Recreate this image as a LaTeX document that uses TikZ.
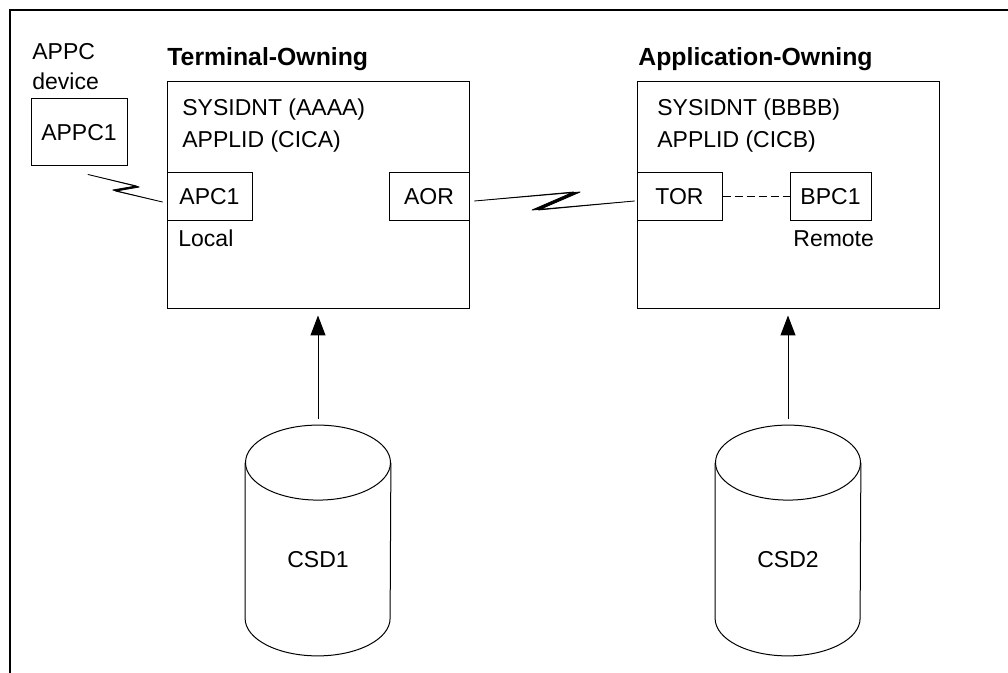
\documentclass[tikz,border=0pt]{standalone}
\usepackage{fontspec}
\setmainfont{Liberation Sans}
\usetikzlibrary{calc,arrows.meta}

\begin{document}
\begin{tikzpicture}[
x=0.5pt,y=-0.5pt,
font=\fontsize{11.5}{16}\selectfont,
region/.style={rectangle, draw, line width=0.5pt, minimum width=151pt, minimum height=113.5pt, inner sep=0pt},
port/.style={rectangle, draw, line width=0.5pt, minimum height=24pt, inner sep=0pt},
title/.style={anchor=base west, inner sep=0pt, font=\fontsize{12.4}{15}\selectfont\bfseries},
txt/.style={anchor=base west, inner sep=0pt, align=left},
dbase/.style={minimum width=72.5pt, minimum height=115pt, inner sep=0pt},
flow/.style={-{Triangle[length=10pt,width=7.5pt]}, line width=0.5pt, shorten <=3pt, shorten >=3pt},
zap/.style={fill=black, draw=black, line width=0.4pt, line join=round},
]
\useasboundingbox (0,0) rectangle (1008,673);

%frame
\draw[line width=0.6pt] (10,673) -- (10,10) -- (1008,10);

%device (base = last line)
\node (dev)   [txt, font=\fontsize{11.5}{15}\selectfont] at (32,90) {APPC\\device};
\node (appc1) [port, minimum width=48pt, minimum height=33.5pt] at (79,132.5) {APPC1};

%regions
\node (torsys) [region] at (318,195.5) {};
\node (aorsys) [region] at (788.5,195.5) {};
\node (tortitle) [title] at (167,66) {Terminal-Owning};
\node (aortitle) [title] at (638,66) {Application-Owning};
\node (torid) [txt] at (182,148) {SYSIDNT (AAAA)\\APPLID (CICA)};
\node (aorid) [txt] at (657,148) {SYSIDNT (BBBB)\\APPLID (CICB)};

\node (apc1) [port, minimum width=42.5pt] at (209.5,196.5) {APC1};
\node (aor)  [port, minimum width=40pt]   at (429,196.5)   {AOR};
\node (tor)  [port, minimum width=42.5pt] at (679.5,196.5) {TOR};
\node (bpc1) [port, minimum width=40.5pt] at (830.5,196.5) {BPC1};
\node (local)  [txt] at (178,247) {Local};
\node (remote) [txt] at (793,247) {Remote};

%CSD files
\node (csd1) [dbase, label={[yshift=-9.75pt]center:CSD1}] at (318,540.5) {};
\node (csd2) [dbase, label={[yshift=-9.75pt]center:CSD2}] at (788,540.5) {};
\foreach \c in {csd1,csd2}{
  \draw[line width=0.5pt] ([yshift=-18.75pt]\c.north) ellipse [x radius=36.25pt, y radius=18.75pt];
  \draw[line width=0.5pt] ([yshift=-18.75pt]\c.north west) -- ([yshift=18.75pt]\c.south west)
    arc [start angle=180, end angle=360, x radius=36.25pt, y radius=18.75pt] -- ([yshift=-18.75pt]\c.north east);
}
\draw[flow] (csd1.north) -- (csd1.north |- torsys.south);
\draw[flow] (csd2.north) -- (csd2.north |- aorsys.south);

%links
\coordinate (z1s) at ([shift={(4.5pt,-4pt)}]appc1.south);
\coordinate (z1e) at ([shift={(-2pt,-2.75pt)}]apc1.west);
\coordinate (z2s) at ([shift={(2.5pt,-2.25pt)}]aor.east);
\coordinate (z2e) at ([shift={(-1pt,-2.25pt)}]tor.west);
\filldraw[zap] (z1s) -- ($(z1s)!0.66!(z1e)!3pt!90:(z1e)$) -- ($(z1s)!0.40!(z1e)!3pt!-90:(z1e)$) -- (z1e)
  -- ($(z1s)!0.36!(z1e)!3pt!-90:(z1e)$) -- ($(z1s)!0.62!(z1e)!3pt!90:(z1e)$) -- cycle;
\filldraw[zap] (z2s) -- ($(z2s)!0.66!(z2e)!4.5pt!90:(z2e)$) -- ($(z2s)!0.40!(z2e)!4.5pt!-90:(z2e)$) -- (z2e)
  -- ($(z2s)!0.36!(z2e)!4.5pt!-90:(z2e)$) -- ($(z2s)!0.62!(z2e)!4.5pt!90:(z2e)$) -- cycle;
\draw[dash pattern=on 4pt off 2pt, line width=0.5pt] (tor) -- (bpc1);

\end{tikzpicture}
\end{document}
